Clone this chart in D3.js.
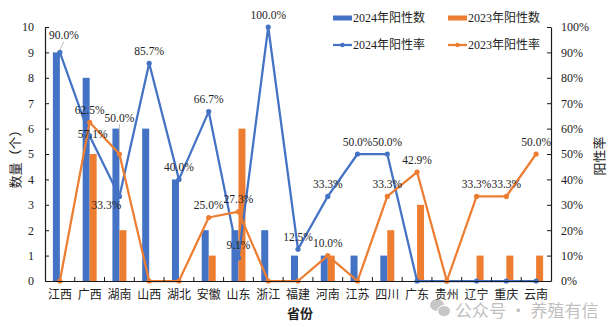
<!DOCTYPE html>
<html>
<head>
<meta charset="utf-8">
<script src="https://cdn.jsdelivr.net/npm/d3@7/dist/d3.min.js"></script>
<style>
  html, body { margin: 0; padding: 0; background: #fff; }
  svg { display: block; }
</style>
</head>
<body>
<svg id="chart" width="611" height="327"></svg>
<script>
// Provinces along the x axis
const provinces = ["江西","广西","湖南","山西","湖北","安徽","山东","浙江","福建","河南","江苏","四川","广东","贵州","辽宁","重庆","云南"];
// Positive counts per province
const count2024 = [9, 8, 6, 6, 4, 2, 2, 2, 1, 1, 1, 1, 0, 0, 0, 0, 0];
const count2023 = [0, 5, 2, 0, 0, 1, 6, 0, 0, 1, 0, 2, 3, 0, 1, 1, 1];
// Positive rates (%) per province
const rate2024 = [90.0, 57.1, 33.3, 85.7, 40.0, 66.7, 9.1, 100.0, 12.5, 33.3, 50.0, 50.0, 0, 0, 0, 0, 0];
const rate2023 = [0, 62.5, 50.0, 0, 0, 25.0, 27.3, 0, 0, 10.0, 0, 33.3, 42.9, 0, 33.3, 33.3, 50.0];
// Axis ticks
const countTicks = [0,1,2,3,4,5,6,7,8,9,10];
const rateTicks = [0,10,20,30,40,50,60,70,80,90,100];

const BLUE = "#4472C4", ORANGE = "#ED7D31";
const serif = "'Liberation Serif', 'Times New Roman', serif";
const cjk = "'Liberation Serif', 'Noto Sans CJK SC', serif";

const svg = d3.select("#chart");
const plotLeft = 45, plotRight = 551, plotTop = 27, plotBottom = 281;

const x = d3.scaleBand().domain(provinces).range([plotLeft, plotRight]).paddingInner(0).paddingOuter(0);
const yCount = d3.scaleLinear().domain([0, 10]).range([plotBottom, plotTop]);
const yRate = d3.scaleLinear().domain([0, 100]).range([plotBottom, plotTop]);
const barW = 7;
const sub = d3.scaleBand().domain(["2024", "2023"])
  .range([x.bandwidth() / 2 - barW, x.bandwidth() / 2 + barW]);
const cx = p => x(p) + x.bandwidth() / 2;

// Bars
const barSeries = [
  { key: "2024", values: count2024, color: BLUE },
  { key: "2023", values: count2023, color: ORANGE }
];
barSeries.forEach(s => {
  svg.append("g").selectAll("rect")
    .data(provinces.map((p, i) => ({ p, v: s.values[i] })))
    .join("rect")
    .attr("x", d => x(d.p) + sub(s.key))
    .attr("width", sub.bandwidth())
    .attr("y", d => yCount(d.v))
    .attr("height", d => yCount(0) - yCount(d.v))
    .attr("fill", s.color);
});

// Lines with markers
const lineSeries = [
  { key: "2024", values: rate2024, color: BLUE },
  { key: "2023", values: rate2023, color: ORANGE }
];
const line = d3.line().x(d => cx(d.p)).y(d => yRate(d.v));
lineSeries.forEach(s => {
  const pts = provinces.map((p, i) => ({ p, v: s.values[i] }));
  const g = svg.append("g");
  g.append("path").datum(pts)
    .attr("d", line)
    .attr("fill", "none")
    .attr("stroke", s.color)
    .attr("stroke-width", 2.25)
    .attr("stroke-linejoin", "round");
  g.selectAll("circle").data(pts).join("circle")
    .attr("cx", d => cx(d.p))
    .attr("cy", d => yRate(d.v))
    .attr("r", 2.6)
    .attr("fill", s.color);
});

// Axes
const axisColor = "#1a1a1a";
const gx = svg.append("g").attr("transform", `translate(0,${plotBottom})`)
  .call(d3.axisBottom(x).tickSize(0).tickPadding(9));
gx.select(".domain").attr("stroke", axisColor).attr("stroke-width", 1.2);
gx.selectAll("text").attr("font-family", cjk).attr("font-size", 12).attr("fill", "#222");
// category separators point up into the plot
gx.selectAll(".sep").data(provinces.slice(1)).join("line")
  .attr("class", "sep")
  .attr("x1", p => x(p)).attr("x2", p => x(p))
  .attr("y1", 0).attr("y2", -4)
  .attr("stroke", axisColor).attr("stroke-width", 1);

const gl = svg.append("g").attr("transform", `translate(${plotLeft},0)`)
  .call(d3.axisLeft(yCount).tickValues(countTicks).tickSize(-4).tickPadding(11).tickSizeOuter(0));
gl.select(".domain").attr("stroke", axisColor).attr("stroke-width", 1.2);
gl.selectAll(".tick line").attr("stroke", axisColor);
gl.selectAll("text").attr("font-family", serif).attr("font-size", 12).attr("fill", "#222");

const gr = svg.append("g").attr("transform", `translate(${plotRight},0)`)
  .call(d3.axisRight(yRate).tickValues(rateTicks).tickFormat(d => d + "%").tickSize(-4).tickPadding(10).tickSizeOuter(0));
gr.select(".domain").attr("stroke", axisColor).attr("stroke-width", 1.2);
gr.selectAll(".tick line").attr("stroke", axisColor);
gr.selectAll("text").attr("font-family", serif).attr("font-size", 12).attr("fill", "#222");

// Axis titles
svg.append("text")
  .attr("transform", "translate(15,156) rotate(-90)")
  .attr("text-anchor", "middle").attr("dominant-baseline", "central")
  .attr("font-family", cjk).attr("font-size", 13).attr("fill", "#222")
  .text("数量（个）");
svg.append("text")
  .attr("transform", "translate(599,156) rotate(-90)")
  .attr("text-anchor", "middle").attr("dominant-baseline", "central")
  .attr("font-family", cjk).attr("font-size", 13).attr("fill", "#222")
  .text("阳性率");
svg.append("text")
  .attr("x", 300).attr("y", 318)
  .attr("text-anchor", "middle")
  .attr("font-family", cjk).attr("font-size", 13).attr("font-weight", "bold").attr("fill", "#222")
  .text("省份");

// Data labels for non-zero rates; a few are nudged off their default spot
const labelNudge = {
  "2024-江西": { dx: 4, dy: -17, leader: true },
  "2024-广西": { dx: 3, dy: -2 },
  "2024-湖南": { dx: -13, dy: 9 },
  "2023-湖南": { dx: 0, dy: -36, leader: true }
};
lineSeries.forEach(s => {
  provinces.forEach((p, i) => {
    const v = s.values[i];
    if (!v) return;
    const px = cx(p), py = yRate(v);
    const n = labelNudge[`${s.key}-${p}`] || { dx: 0, dy: -12.5 };
    const lx = px + n.dx, ly = py + n.dy;
    if (n.leader) {
      svg.append("line")
        .attr("x1", lx).attr("y1", ly + 6)
        .attr("x2", px).attr("y2", py - 2)
        .attr("stroke", "#bfbfbf").attr("stroke-width", 1);
    }
    svg.append("text")
      .attr("x", lx).attr("y", ly)
      .attr("text-anchor", "middle").attr("dominant-baseline", "central")
      .attr("font-family", serif).attr("font-size", 11.5).attr("fill", "#222")
      .text(v.toFixed(1) + "%");
  });
});

// Legend
const legendItems = [
  { label: "2024年阳性数", color: BLUE, type: "bar", x: 333, y: 18 },
  { label: "2023年阳性数", color: ORANGE, type: "bar", x: 448, y: 18 },
  { label: "2024年阳性率", color: BLUE, type: "line", x: 333, y: 45 },
  { label: "2023年阳性率", color: ORANGE, type: "line", x: 448, y: 45 }
];
const lg = svg.append("g");
legendItems.forEach(it => {
  if (it.type === "bar") {
    lg.append("rect").attr("x", it.x).attr("y", it.y - 2.5).attr("width", 19).attr("height", 5).attr("fill", it.color);
  } else {
    lg.append("line").attr("x1", it.x).attr("x2", it.x + 19).attr("y1", it.y).attr("y2", it.y)
      .attr("stroke", it.color).attr("stroke-width", 2.25);
    lg.append("circle").attr("cx", it.x + 9.5).attr("cy", it.y).attr("r", 2.2).attr("fill", it.color);
  }
  lg.append("text").attr("x", it.x + 20).attr("y", it.y)
    .attr("dominant-baseline", "central")
    .attr("font-family", cjk).attr("font-size", 12).attr("fill", "#222")
    .text(it.label);
});

// Account mark in the lower right corner
const wm = svg.append("g").attr("opacity", 0.55);
wm.append("ellipse").attr("cx", 437).attr("cy", 305).attr("rx", 7).attr("ry", 6).attr("fill", "#9a9a9a");
wm.append("ellipse").attr("cx", 444).attr("cy", 311).attr("rx", 6.5).attr("ry", 5.5).attr("fill", "#9a9a9a").attr("stroke", "#fff").attr("stroke-width", 1);
wm.append("text").attr("x", 455).attr("y", 309)
  .attr("dominant-baseline", "central")
  .attr("font-family", "'Noto Sans CJK SC', sans-serif").attr("font-size", 17).attr("fill", "#8c8c8c")
  .text("公众号 · 养殖有信");
</script>
</body>
</html>
